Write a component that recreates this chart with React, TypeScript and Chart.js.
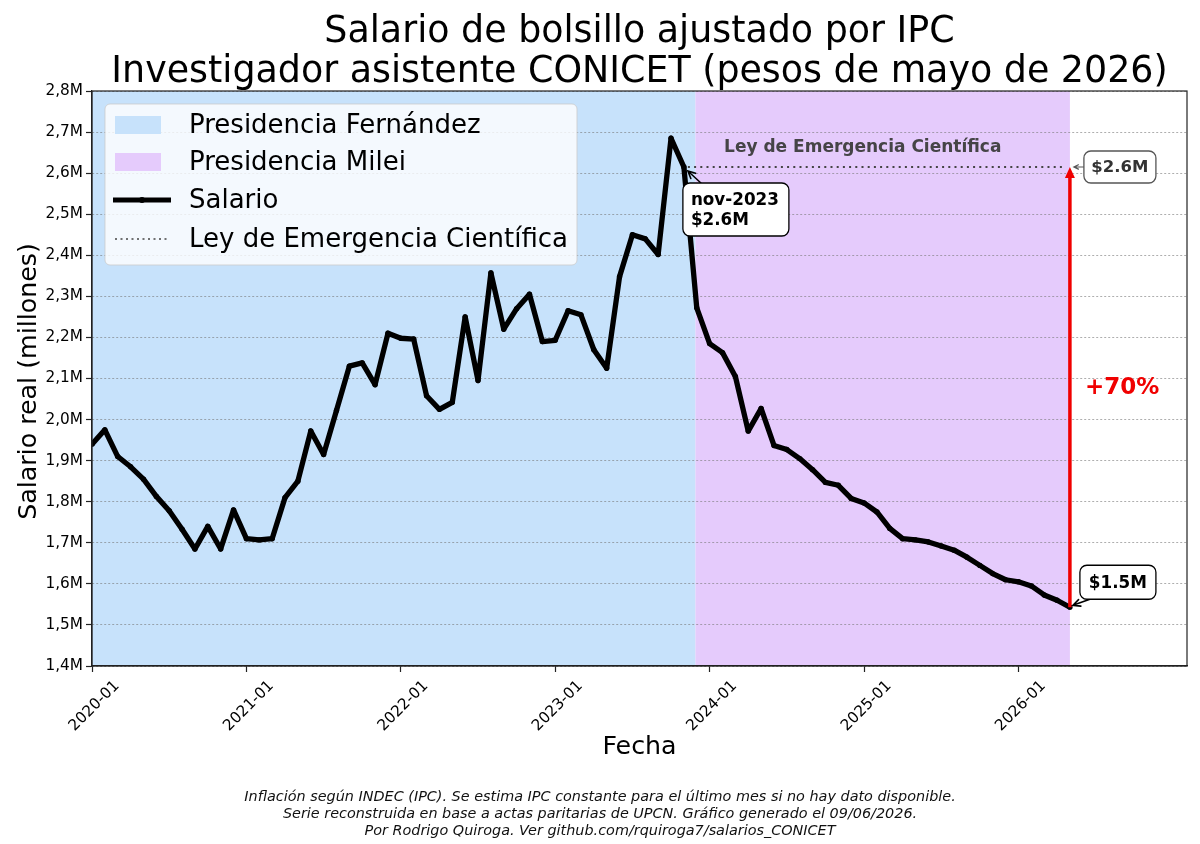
import React, { useEffect, useRef } from 'react';
import { Chart, registerables } from 'chart.js';

Chart.register(...registerables);

// ---------- DATA ----------
const TITLE_LINES = [
  'Salario de bolsillo ajustado por IPC',
  'Investigador asistente CONICET (pesos de mayo de 2026)',
];
const FOOTER_LINES = [
  'Inflación según INDEC (IPC). Se estima IPC constante para el último mes si no hay dato disponible.',
  'Serie reconstruida en base a actas paritarias de UPCN. Gráfico generado el 09/06/2026.',
  'Por Rodrigo Quiroga. Ver github.com/rquiroga7/salarios_CONICET',
];
const X_TICK_LABELS = ['2020-01', '2021-01', '2022-01', '2023-01', '2024-01', '2025-01', '2026-01'];
const X_TICK_MONTHS = [0, 12, 24, 36, 48, 60, 72];
const Y_TICKS = [1.4, 1.5, 1.6, 1.7, 1.8, 1.9, 2.0, 2.1, 2.2, 2.3, 2.4, 2.5, 2.6, 2.7, 2.8];

// Monthly real salary (millions, pesos of May 2026), from 2020-01 to 2026-05
const SALARIO = [
  1.94, 1.975, 1.91, 1.885, 1.855, 1.813, 1.778, 1.733, 1.685, 1.74, 1.685, 1.78,
  1.71, 1.707, 1.71, 1.81, 1.85, 1.972, 1.915, 2.022, 2.13, 2.138, 2.085, 2.21,
  2.198, 2.196, 2.058, 2.025, 2.042, 2.25, 2.095, 2.357, 2.22, 2.27, 2.305, 2.19,
  2.193, 2.265, 2.255, 2.17, 2.125, 2.348, 2.45, 2.44, 2.402, 2.685, 2.615, 2.272,
  2.185, 2.163, 2.105, 1.972, 2.027, 1.937, 1.927, 1.905, 1.878, 1.847, 1.84, 1.808,
  1.797, 1.775, 1.735, 1.71, 1.707, 1.702, 1.692, 1.682, 1.665, 1.645, 1.625, 1.61,
  1.605, 1.595, 1.573, 1.56, 1.543,
];
const X_MAX = 85.1; // axis end (month index)
const PERIOD_BOUNDARY = 46.9; // Fernández -> Milei (month index)
const NOV2023_INDEX = 46;
const LEY_VALUE = 2.615;
const LAST_INDEX = SALARIO.length - 1;
const PCT_LABEL = '+70%';
const LEGEND_LABELS = ['Presidencia Fernández', 'Presidencia Milei', 'Salario', 'Ley de Emergencia Científica'];

// ---------- STYLE ----------
const FONT = "'DejaVu Sans', 'Liberation Sans', sans-serif";
const FERNANDEZ_COLOR = '#c7e2fb';
const MILEI_COLOR = '#e5cbfc';
const RED = '#f00000';

function roundBox(ctx: CanvasRenderingContext2D, x: number, y: number, w: number, h: number, r: number, fill: string, stroke: string, lw: number) {
  ctx.beginPath();
  (ctx as any).roundRect(x, y, w, h, r);
  ctx.fillStyle = fill;
  ctx.fill();
  ctx.lineWidth = lw;
  ctx.strokeStyle = stroke;
  ctx.stroke();
}

function openArrow(ctx: CanvasRenderingContext2D, x1: number, y1: number, x2: number, y2: number, color: string, lw: number, head: number) {
  ctx.save();
  ctx.strokeStyle = color;
  ctx.lineWidth = lw;
  ctx.lineCap = 'round';
  ctx.beginPath();
  ctx.moveTo(x1, y1);
  ctx.lineTo(x2, y2);
  const ang = Math.atan2(y2 - y1, x2 - x1);
  ctx.moveTo(x2 - head * Math.cos(ang - 0.45), y2 - head * Math.sin(ang - 0.45));
  ctx.lineTo(x2, y2);
  ctx.lineTo(x2 - head * Math.cos(ang + 0.45), y2 - head * Math.sin(ang + 0.45));
  ctx.stroke();
  ctx.restore();
}

const customPlugin = {
  id: 'customDecor',
  beforeDraw(chart: any) {
    const { ctx, chartArea: a, scales } = chart;
    const x = scales.x;
    ctx.save();
    ctx.fillStyle = '#ffffff';
    ctx.fillRect(0, 0, chart.width, chart.height);
    const xb = x.getPixelForValue(PERIOD_BOUNDARY);
    const xe = x.getPixelForValue(LAST_INDEX);
    ctx.fillStyle = FERNANDEZ_COLOR;
    ctx.fillRect(a.left, a.top, xb - a.left, a.bottom - a.top);
    ctx.fillStyle = MILEI_COLOR;
    ctx.fillRect(xb, a.top, xe - xb, a.bottom - a.top);
    ctx.restore();
  },
  afterDatasetsDraw(chart: any) {
    const { ctx, scales } = chart;
    const x = scales.x, y = scales.y;
    const yLey = y.getPixelForValue(LEY_VALUE);
    const xNov = x.getPixelForValue(NOV2023_INDEX);
    const xLast = x.getPixelForValue(LAST_INDEX);
    const yLast = y.getPixelForValue(SALARIO[LAST_INDEX]);
    ctx.save();
    // dotted Ley line
    ctx.strokeStyle = '#444';
    ctx.lineWidth = 2.2;
    ctx.setLineDash([2, 4.2]);
    ctx.beginPath();
    ctx.moveTo(xNov + 4, yLey);
    ctx.lineTo(xLast - 6, yLey);
    ctx.stroke();
    ctx.setLineDash([]);

    // red arrow
    ctx.strokeStyle = RED;
    ctx.fillStyle = RED;
    ctx.lineWidth = 3.5;
    ctx.beginPath();
    ctx.moveTo(xLast, yLast);
    ctx.lineTo(xLast, yLey + 8);
    ctx.stroke();
    ctx.beginPath();
    ctx.moveTo(xLast, yLey);
    ctx.lineTo(xLast - 5, yLey + 11);
    ctx.lineTo(xLast + 5, yLey + 11);
    ctx.closePath();
    ctx.fill();

    // +70%
    ctx.font = `bold 23px ${FONT}`;
    ctx.fillStyle = RED;
    ctx.textAlign = 'left';
    ctx.textBaseline = 'middle';
    ctx.fillText(PCT_LABEL, xLast + 15, (yLey + yLast) / 2 + 1);

    // Ley text
    ctx.font = `bold 17px ${FONT}`;
    ctx.fillStyle = 'rgba(60,60,60,0.95)';
    ctx.textAlign = 'center';
    ctx.textBaseline = 'middle';
    ctx.fillText('Ley de Emergencia Científica', x.getPixelForValue(59.9), yLey - 19);

    // $2.6M box (right)
    const bx = xLast + 14, bw = 72, bh = 32;
    openArrow(ctx, bx, yLey, xLast + 4, yLey, '#555', 1.2, 5);
    roundBox(ctx, bx, yLey - bh / 2, bw, bh, 7, '#ffffff', '#555', 1.3);
    ctx.font = `bold 16.5px ${FONT}`;
    ctx.fillStyle = '#333';
    ctx.textAlign = 'center';
    ctx.fillText('$2.6M', bx + bw / 2, yLey + 1);

    // nov-2023 box
    const nx = xNov - 1, ny = yLey + 16, nw = 106, nh = 53;
    openArrow(ctx, nx + 18, ny, xNov + 4, yLey + 4, '#000', 1.6, 8);
    roundBox(ctx, nx, ny, nw, nh, 7, '#ffffff', '#000', 1.3);
    ctx.fillStyle = '#000';
    ctx.textAlign = 'left';
    ctx.textBaseline = 'alphabetic';
    ctx.font = `bold 16.8px ${FONT}`;
    ctx.fillText('nov-2023', nx + 8, ny + 22);
    ctx.fillText('$2.6M', nx + 8, ny + 42);

    // $1.5M box
    const sx = xLast + 10, sy = yLast - 42, sw = 76, sh = 34;
    openArrow(ctx, sx + 10, sy + sh, xLast + 3, yLast - 2, '#000', 1.6, 8);
    roundBox(ctx, sx, sy, sw, sh, 7, '#ffffff', '#000', 1.3);
    ctx.fillStyle = '#000';
    ctx.textAlign = 'center';
    ctx.textBaseline = 'middle';
    ctx.fillText('$1.5M', sx + sw / 2, sy + sh / 2 + 1);
    ctx.restore();
  },
  afterDraw(chart: any) {
    const { ctx, chartArea: a } = chart;
    ctx.save();
    // frame
    ctx.strokeStyle = '#222';
    ctx.lineWidth = 1.2;
    ctx.strokeRect(a.left, a.top, a.right - a.left, a.bottom - a.top);

    // legend
    const lx = a.left + 13, ly = a.top + 13, lw = 472, lh = 161;
    roundBox(ctx, lx, ly, lw, lh, 5, 'rgba(255,255,255,0.8)', 'rgba(204,204,204,0.8)', 1);
    const rows = [ly + 21, ly + 58, ly + 96, ly + 135];
    ctx.fillStyle = FERNANDEZ_COLOR;
    ctx.fillRect(lx + 10, rows[0] - 9, 46, 18);
    ctx.fillStyle = MILEI_COLOR;
    ctx.fillRect(lx + 10, rows[1] - 9, 46, 18);
    ctx.strokeStyle = '#000';
    ctx.lineWidth = 5;
    ctx.beginPath();
    ctx.moveTo(lx + 8, rows[2]);
    ctx.lineTo(lx + 66, rows[2]);
    ctx.stroke();
    ctx.fillStyle = '#000';
    ctx.beginPath();
    ctx.arc(lx + 37, rows[2], 3, 0, Math.PI * 2);
    ctx.fill();
    ctx.strokeStyle = '#444';
    ctx.lineWidth = 1.6;
    ctx.setLineDash([2, 3.5]);
    ctx.beginPath();
    ctx.moveTo(lx + 10, rows[3]);
    ctx.lineTo(lx + 64, rows[3]);
    ctx.stroke();
    ctx.setLineDash([]);
    ctx.font = `26px ${FONT}`;
    ctx.fillStyle = '#000';
    ctx.textAlign = 'left';
    ctx.textBaseline = 'middle';
    LEGEND_LABELS.forEach((t, i) => ctx.fillText(t, lx + 84, rows[i] + 1));

    // title
    ctx.font = `36.4px ${FONT}`;
    ctx.textAlign = 'center';
    ctx.textBaseline = 'alphabetic';
    const cx = (a.left + a.right) / 2;
    ctx.fillText(TITLE_LINES[0], cx, 42);
    ctx.fillText(TITLE_LINES[1], cx, 82);

    // axis titles
    ctx.font = `25.3px ${FONT}`;
    ctx.textBaseline = 'middle';
    ctx.fillText('Fecha', cx, 747);
    ctx.save();
    ctx.translate(29, (a.top + a.bottom) / 2 + 3);
    ctx.rotate(-Math.PI / 2);
    ctx.fillText('Salario real (millones)', 0, 0);
    ctx.restore();

    // footer
    ctx.font = `italic 14.4px ${FONT}`;
    ctx.fillStyle = '#111';
    FOOTER_LINES.forEach((t, i) => ctx.fillText(t, chart.width / 2, 797 + i * 17));
    ctx.restore();
  },
};

export default function App() {
  const canvasRef = useRef<HTMLCanvasElement | null>(null);

  useEffect(() => {
    if (!canvasRef.current) return;
    Chart.defaults.font.family = FONT;
    const chart = new Chart(canvasRef.current, {
      type: 'line',
      data: {
        datasets: [
          {
            label: 'Salario',
            data: SALARIO.map((v, i) => ({ x: i, y: v })),
            borderColor: '#000',
            backgroundColor: '#000',
            borderWidth: 5.3,
            pointRadius: 2.7,
            pointBackgroundColor: '#000',
            pointBorderWidth: 0,
            tension: 0,
            borderJoinStyle: 'round',
          } as any,
        ],
      },
      options: {
        animation: false,
        responsive: true,
        maintainAspectRatio: false,
        layout: { padding: { top: 91, left: 0, right: 13, bottom: 82 } },
        plugins: {
          legend: { display: false },
          title: { display: false },
          tooltip: { enabled: false },
        },
        scales: {
          x: {
            type: 'linear',
            min: 0,
            max: X_MAX,
            afterBuildTicks: (scale: any) => {
              scale.ticks = X_TICK_MONTHS.map((v) => ({ value: v }));
            },
            afterFit: (scale: any) => {
              scale.height = 96;
            },
            ticks: {
              autoSkip: false,
              maxRotation: 45,
              minRotation: 45,
              labelOffset: 25,
              padding: 5,
              color: '#000',
              font: { size: 15.3, family: FONT },
              callback: (v: any) => {
                const k = X_TICK_MONTHS.indexOf(Number(v));
                return k >= 0 ? X_TICK_LABELS[k] : '';
              },
            },
            grid: {
              drawOnChartArea: false,
              drawTicks: true,
              tickLength: 6,
              tickColor: '#222',
              tickWidth: 1.2,
            },
            border: { display: true, color: '#222', width: 1.2 },
          },
          y: {
            type: 'linear',
            min: 1.4,
            max: 2.8,
            afterBuildTicks: (scale: any) => {
              scale.ticks = Y_TICKS.map((v) => ({ value: v }));
            },
            afterFit: (scale: any) => {
              scale.width = 92;
            },
            ticks: {
              padding: 3,
              color: '#000',
              font: { size: 15.3, family: FONT },
              callback: (v: any) => (Math.round(Number(v) * 10) / 10).toFixed(1).replace('.', ',') + 'M',
            },
            grid: {
              color: 'rgba(120,120,120,0.75)',
              lineWidth: 0.8,
              drawTicks: true,
              tickLength: 6,
              tickColor: '#222',
              tickWidth: 1.2,
              tickBorderDash: [],
            } as any,
            border: { display: true, color: '#222', width: 1.2, dash: [2, 2] },
          },
        },
      },
      plugins: [customPlugin],
    });
    return () => chart.destroy();
  }, []);

  return (
    <div style={{ position: 'absolute', left: 0, top: 0, width: 1200, height: 844, background: '#fff' }}>
      <canvas ref={canvasRef} />
    </div>
  );
}
